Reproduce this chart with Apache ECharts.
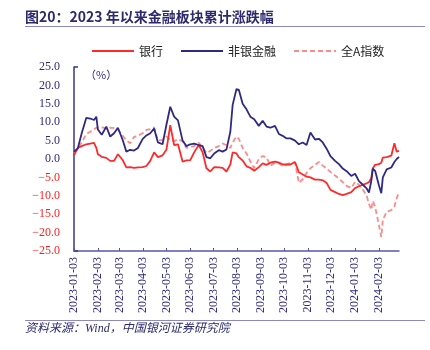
<!DOCTYPE html>
<html>
<head>
<meta charset="utf-8">
<script src="https://cdn.jsdelivr.net/npm/echarts@6/dist/echarts.min.js"></script>
<style>
  html, body { margin: 0; padding: 0; background: #fff; }
  #main { width: 430px; height: 350px; }
</style>
</head>
<body>
<div id="main"></div>
<script>
// 采样日期（自然日）
var sampleDates = [
  '2023-01-03','2023-01-08','2023-01-13','2023-01-19','2023-01-24','2023-01-29','2023-02-01','2023-02-03',
  '2023-02-08','2023-02-14','2023-02-19','2023-02-24','2023-03-01','2023-03-07','2023-03-12','2023-03-17',
  '2023-03-22','2023-03-27','2023-04-02','2023-04-07','2023-04-12','2023-04-17','2023-04-22','2023-04-28',
  '2023-05-03','2023-05-08','2023-05-13','2023-05-18','2023-05-24','2023-05-29','2023-06-03','2023-06-08',
  '2023-06-14','2023-06-19','2023-06-24','2023-06-29','2023-07-04','2023-07-10','2023-07-15','2023-07-20',
  '2023-07-25','2023-07-28','2023-08-02','2023-08-05','2023-08-10','2023-08-15','2023-08-20','2023-08-25',
  '2023-08-31','2023-09-05','2023-09-10','2023-09-15','2023-09-21','2023-09-26','2023-10-01','2023-10-06',
  '2023-10-11','2023-10-17','2023-10-22','2023-10-27','2023-11-01','2023-11-06','2023-11-12','2023-11-17',
  '2023-11-22','2023-11-27','2023-12-02','2023-12-08','2023-12-13','2023-12-18','2023-12-23','2023-12-29',
  '2024-01-03','2024-01-08','2024-01-13','2024-01-18','2024-01-21','2024-01-24','2024-01-26','2024-01-29',
  '2024-02-03','2024-02-06','2024-02-08','2024-02-13','2024-02-19','2024-02-23','2024-02-26','2024-02-29'
];
// 银行
var bankData = [
  1.1, 3.0, 3.5, 4.0, 4.2, 4.4, 3.0, 1.3,
  0.6, 0.3, -0.5, -0.5, 1.3, -0.2, -2.3, -2.2,
  -2.4, -2.3, -2.2, -1.9, -0.5, 1.8, 0.5, 1.0,
  2.5, 9.2, 3.8, 4.0, -0.7, -0.4, -0.3, 1.8,
  3.8, 1.8, -2.5, -3.4, -2.2, -2.3, -2.4, -3.4,
  -1.5, 1.8, 1.5, 0.5, -0.4, -2.0, -2.4, -3.2,
  -2.2, -1.2, -1.6, -1.0, -0.7, -1.0, -1.5, -1.5,
  -1.5, -0.8, -3.6, -4.2, -4.8, -5.0, -5.6, -5.6,
  -5.8, -6.5, -8.4, -9.0, -9.5, -9.8, -9.5, -9.0,
  -7.9, -7.4, -7.0, -6.6, -6.3, -5.2, -2.5, -1.6,
  -1.4, -1.0, 0.4, 0.5, 0.9, 4.3, 2.0, 2.2
];
// 非银金融
var nonBankData = [
  2.0, 2.9, 7.0, 11.2, 11.0, 10.6, 11.5, 8.0,
  6.6, 8.8, 6.1, 7.0, 8.5, 5.3, 2.0, 2.5,
  2.3, 3.0, 5.4, 6.4, 7.0, 8.3, 4.5, 4.0,
  9.3, 14.2, 11.5, 10.5, 5.0, 3.5, 4.0, 4.2,
  3.8, 3.5, 0.5, 0.2, 1.5, 2.4, 2.0, 2.6,
  7.4, 14.7, 19.0, 18.8, 15.0, 13.5, 11.5, 10.8,
  9.0, 10.4, 8.8, 8.5, 9.0, 6.8, 6.3, 5.6,
  5.6, 5.0, 4.0, 4.5, 3.8, 7.2, 5.3, 5.5,
  4.5, 2.8, 0.8, -0.5, -1.4, -2.6, -3.3, -4.6,
  -4.0, -6.0, -7.0, -8.0, -9.1, -6.0, -2.6, -3.2,
  -7.2, -9.3, -5.0, -2.8, -2.3, -0.8, 0.0, 0.6
];
// 全A指数
var allAData = [
  1.6, 2.8, 4.5, 6.8, 7.4, 8.1, 8.5, 8.7,
  8.6, 8.3, 8.5, 8.4, 8.0, 6.4, 5.0, 4.3,
  6.0, 6.3, 7.0, 7.9, 8.1, 8.6, 5.0, 5.2,
  6.1, 5.2, 4.8, 5.4, 4.8, 3.0, 3.2, 3.5,
  4.4, 3.2, 1.6, 2.2, 3.0, 3.5, 4.2, 3.8,
  3.0, 4.5, 6.1, 5.5, 3.0, 1.5, -0.7, -2.5,
  0.0, 0.8, 0.5, -1.8, -1.0, -1.2, -1.8, -1.5,
  -1.0, -1.0, -6.5, -5.5, -3.8, -2.5, -1.6, -0.8,
  -1.8, -2.6, -3.5, -4.5, -5.3, -6.3, -7.3, -7.9,
  -6.2, -7.0, -8.3, -10.0, -12.2, -13.8, -11.4, -13.0,
  -18.0, -21.2, -16.5, -14.3, -13.9, -12.9, -10.7, -9.0
];
var seriesNames = ['银行', '非银金融', '全A指数'];

// x 轴：逐日类目
var days = [];
var t = Date.UTC(2023, 0, 3), end = Date.UTC(2024, 1, 29);
for (; t <= end; t += 86400000) {
  days.push(new Date(t).toISOString().slice(0, 10));
}
function pair(vals) {
  return sampleDates.map(function (d, i) { return [d, vals[i]]; });
}
function isThird(idx, val) { return val.slice(8) === '03'; }

var navy = '#2E2A84';
var serif = '"Liberation Serif", "Noto Sans CJK SC", serif';
var chart = echarts.init(document.getElementById('main'));
chart.setOption({
  animation: false,
  textStyle: { fontFamily: serif },
  grid: { left: 74, right: 31, top: 67, bottom: 99 },
  legend: {
    left: 86, top: 40,
    itemWidth: 42, itemHeight: 10, itemGap: 17,
    itemStyle: { opacity: 0 },
    textStyle: { fontSize: 12, color: '#222', fontFamily: '"Noto Sans CJK SC", sans-serif' },
    data: seriesNames
  },
  graphic: [
    { type: 'text', left: 25, top: 10, style: { text: '图20：2023 年以来金融板块累计涨跌幅', fill: '#2B2A6E', font: 'bold 14px "Noto Sans CJK SC", sans-serif' } },
    { type: 'line', shape: { x1: 25, y1: 26.5, x2: 425, y2: 26.5 }, style: { stroke: '#8C88C6', lineWidth: 1 } },
    { type: 'text', left: 85, top: 69, style: { text: '（%）', fill: navy, font: '11px "Noto Sans CJK SC", sans-serif' } },
    { type: 'line', shape: { x1: 25, y1: 320.5, x2: 425, y2: 320.5 }, style: { stroke: '#8C88C6', lineWidth: 1 } },
    { type: 'text', left: 25, top: 323, style: { text: '资料来源：Wind，中国银河证券研究院', fill: '#2B2A6E', font: 'italic 12px "Liberation Serif", "Noto Sans CJK SC", serif' } }
  ],
  xAxis: [
    {
      type: 'category', data: days, boundaryGap: false,
      axisLine: { show: false }, axisTick: { show: false },
      axisLabel: { interval: isThird, rotate: 90, fontSize: 12, color: navy, margin: 6, fontFamily: serif },
      splitLine: { show: false }
    },
    {
      type: 'category', data: days, boundaryGap: false, position: 'bottom',
      axisLine: { onZero: true, lineStyle: { color: '#5A55AA', width: 1.5 } },
      axisTick: { interval: isThird, inside: true, length: 3, lineStyle: { color: '#5A55AA' } },
      axisLabel: { show: false }
    }
  ],
  yAxis: {
    type: 'value', min: -25, max: 25, interval: 5,
    axisLine: { show: true, lineStyle: { color: '#3B3691', width: 1.5 } },
    axisTick: { show: true, inside: true, length: 4, customValues: [-25, 25], lineStyle: { color: '#3B3691', width: 1.5 } },
    splitLine: { show: false },
    axisLabel: {
      margin: 14, fontSize: 12,
      formatter: function (v) {
        return v < 0 ? '{n|−' + Math.abs(v).toFixed(1) + '}' : '{p|' + v.toFixed(1) + '}';
      },
      rich: {
        n: { color: '#FF2020', fontSize: 12, fontFamily: serif },
        p: { color: navy, fontSize: 12, fontFamily: serif }
      }
    }
  },
  series: [
    { name: seriesNames[0], type: 'line', symbol: 'none', data: pair(bankData),
      itemStyle: { color: '#FF2A2A' }, lineStyle: { color: '#FF2A2A', width: 1.8 } },
    { name: seriesNames[1], type: 'line', symbol: 'none', data: pair(nonBankData),
      itemStyle: { color: navy }, lineStyle: { color: navy, width: 1.8 } },
    { name: seriesNames[2], type: 'line', symbol: 'none', data: pair(allAData), z: 1,
      itemStyle: { color: '#FF8A8A' }, lineStyle: { color: '#FF8A8A', width: 1.8, type: [5, 3] } }
  ]
});
</script>
</body>
</html>
